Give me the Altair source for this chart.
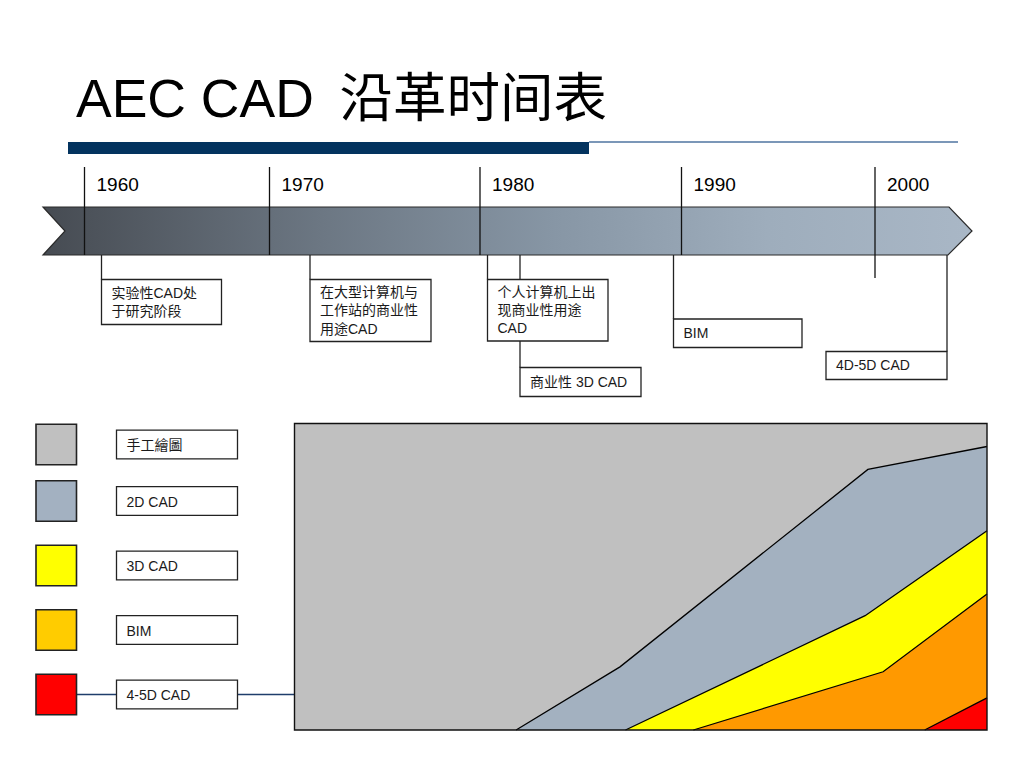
import altair as alt

# ------------------------------------------------------------------ data
TITLE = "AEC CAD \u2009沿革时间表"

DECADES = [1960, 1970, 1980, 1990, 2000]
DECADE_LABELS = ["1960", "1970", "1980", "1990", "2000"]

EVENT_TEXT = [
    ["实验性CAD处", "于研究阶段"],
    ["在大型计算机与", "工作站的商业性", "用途CAD"],
    ["个人计算机上出", "现商业性用途", "CAD"],
    ["商业性 3D CAD"],
    ["BIM"],
    ["4D-5D CAD"],
]

SERIES = ["手工繪圖", "2D CAD", "3D CAD", "BIM", "4-5D CAD"]
LEGEND_COLORS = ["#c0c0c0", "#a3b1c1", "#ffff00", "#ffcc00", "#ff0000"]
AREA_COLORS = ["#c0c0c0", "#a3b1c0", "#ffff00", "#ff9900", "#ff0000"]

# cumulative share (%, counted from the bottom of the stack) by year
MANUAL_YEARS = [1960, 2010]
MANUAL_TOP = [100, 100]
CAD2D_YEARS = [1976.0, 1983.5, 2001.4, 2010]
CAD2D_TOP = [0, 20.6, 85.0, 92.5]
CAD3D_YEARS = [1983.9, 2001.2, 2010]
CAD3D_TOP = [0, 37.3, 65.0]
BIM_YEARS = [1988.8, 2002.5, 2010]
BIM_TOP = [0, 19.0, 44.4]
CAD45_YEARS = [2005.5, 2010]
CAD45_TOP = [0, 10.5]

# ------------------------------------------------------------------ layout (page pixels)
W, H = 1008, 752
M = 8
FONT = "Liberation Sans, Arial, Noto Sans CJK SC"
TITLE_FONT = "Liberation Sans, Arial, Noto Sans CJK SC"

DECADE_PX = [84.5, 269.5, 480, 681.5, 875]          # where the decades sit on the arrow
TICK_TOP = 167
ARROW_TOP, ARROW_MID, ARROW_BOT = 207, 231, 255
TICK_BOTTOM = [255, 255, 255, 255, 278]

# callout boxes: (x1, x2, y1, y2) and leader x
BOXES = [
    (101.5, 221.5, 279.5, 324.5),
    (310, 431, 279.5, 341.5),
    (487.5, 608, 279.5, 341),
    (520, 641, 367.5, 396.5),
    (673.5, 802, 319, 347.5),
    (826, 947, 351.5, 379.5),
]
LEADERS = [
    (101.5, ARROW_BOT, 279.5),
    (310, ARROW_BOT, 279.5),
    (487.5, ARROW_BOT, 279.5),
    (520, ARROW_BOT, 279.5),
    (520, 341, 367.5),
    (673.5, ARROW_BOT, 319),
    (947, ARROW_BOT, 351.5),
]

LEGEND_CY = [444.5, 501, 565.5, 630, 694.5]
SQ_X1, SQ_X2, SQ_HALF = 36, 76.5, 20.3
LB_X1, LB_X2, LB_HALF = 116.5, 237.5, 14.3

PLOT_X1, PLOT_X2, PLOT_Y1, PLOT_Y2 = 294.5, 987, 423.5, 730


def sx(field, **kw):
    return alt.X(field, type="quantitative", axis=None,
                 scale=alt.Scale(domain=[M, M + W], range=[0, W], nice=False, zero=False), **kw)


def sy(field, **kw):
    return alt.Y(field, type="quantitative", axis=None,
                 scale=alt.Scale(domain=[M, M + H], range=[0, H], nice=False, zero=False), **kw)


YEAR_SCALE = alt.Scale(domain=DECADES, range=[p - M for p in DECADE_PX], nice=False, zero=False)
AREA_X = alt.Scale(domain=[1960, 2010], range=[PLOT_X1 - M, PLOT_X2 - M], nice=False, zero=False)
AREA_Y = alt.Scale(domain=[0, 100], range=[PLOT_Y2 - M, PLOT_Y1 - M], nice=False, zero=False)

layers = []

# title
layers.append(
    alt.Chart(alt.Data(values=[{"t": TITLE, "x": 76, "y": 117}]))
    .mark_text(align="left", baseline="alphabetic", fontSize=53.5, font=TITLE_FONT, color="#000000")
    .encode(x=sx("x"), y=sy("y"), text=alt.Text("t:N"))
)
# underline bar + thin rule
layers.append(
    alt.Chart(alt.Data(values=[{"x": 68, "x2": 589, "y": 142, "y2": 154}]))
    .mark_rect(color="#03335f")
    .encode(x=sx("x"), x2="x2:Q", y=sy("y"), y2="y2:Q")
)
layers.append(
    alt.Chart(alt.Data(values=[{"x": 589, "x2": 958, "y": 142}]))
    .mark_rule(color="#4f74a0", strokeWidth=1.6)
    .encode(x=sx("x"), x2="x2:Q", y=sy("y"))
)

# arrow band with gradient
grad = alt.Gradient(
    gradient="linear",
    stops=[
        alt.GradientStop(color="#464b52", offset=0),
        alt.GradientStop(color="#6c7783", offset=0.3),
        alt.GradientStop(color="#8796a5", offset=0.55),
        alt.GradientStop(color="#9eadbc", offset=0.78),
        alt.GradientStop(color="#a9b7c6", offset=1),
    ],
    x1=0, x2=1, y1=0, y2=0,
)
arrow_pts = [
    {"y": ARROW_TOP, "xl": 43, "xr": 949},
    {"y": ARROW_MID, "xl": 65, "xr": 972},
    {"y": ARROW_BOT, "xl": 43, "xr": 948},
]
layers.append(
    alt.Chart(alt.Data(values=arrow_pts))
    .mark_area(orient="horizontal", color=grad, stroke="#2a2a2a", strokeWidth=1.2, opacity=1)
    .encode(y=sy("y"), x=sx("xl"), x2="xr:Q")
)

# decade ticks and labels (through the year scale)
tick_rows = [{"year": yv, "lab": lb, "top": TICK_TOP, "bot": b}
             for yv, lb, b in zip(DECADES, DECADE_LABELS, TICK_BOTTOM)]
layers.append(
    alt.Chart(alt.Data(values=tick_rows))
    .mark_rule(color="#111111", strokeWidth=1.3)
    .encode(x=alt.X("year:Q", scale=YEAR_SCALE, axis=None), y=sy("top"), y2="bot:Q")
)
layers.append(
    alt.Chart(alt.Data(values=[dict(r, ly=191) for r in tick_rows]))
    .mark_text(align="left", baseline="alphabetic", dx=12, fontSize=19, font=FONT, color="#000000")
    .encode(x=alt.X("year:Q", scale=YEAR_SCALE, axis=None), y=sy("ly"), text=alt.Text("lab:N"))
)

# callout leaders
layers.append(
    alt.Chart(alt.Data(values=[{"x": a, "y": b, "y2": c} for a, b, c in LEADERS]))
    .mark_rule(color="#222222", strokeWidth=1.3)
    .encode(x=sx("x"), y=sy("y"), y2="y2:Q")
)
# callout boxes
layers.append(
    alt.Chart(alt.Data(values=[{"x": a, "x2": b, "y": c, "y2": d} for a, b, c, d in BOXES]))
    .mark_rect(fill="#ffffff", stroke="#222222", strokeWidth=1.3)
    .encode(x=sx("x"), x2="x2:Q", y=sy("y"), y2="y2:Q")
)
callout_rows = []
for (a, b, c, d), txt in zip(BOXES, EVENT_TEXT):
    n = len(txt)
    ytop = (c + d) / 2 - n * 18.2 / 2
    callout_rows.append({"x": a + 10, "y": ytop, "t": txt})
layers.append(
    alt.Chart(alt.Data(values=callout_rows))
    .mark_text(align="left", baseline="top", fontSize=14, lineHeight=18.2, font=FONT, color="#1a1a1a", dy=3)
    .encode(x=sx("x"), y=sy("y"), text=alt.Text("t:N"))
)

# legend connector line
layers.append(
    alt.Chart(alt.Data(values=[{"x": SQ_X2, "x2": LB_X1, "y": LEGEND_CY[4]},
                               {"x": LB_X2, "x2": PLOT_X1, "y": LEGEND_CY[4]}]))
    .mark_rule(color="#1f3d6b", strokeWidth=1.4)
    .encode(x=sx("x"), x2="x2:Q", y=sy("y"))
)
# legend squares and labels
leg_rows = [{"name": s, "col": c, "cy": cy,
             "sx1": SQ_X1, "sx2": SQ_X2, "sy1": cy - SQ_HALF, "sy2": cy + SQ_HALF,
             "lx1": LB_X1, "lx2": LB_X2, "ly1": cy - LB_HALF, "ly2": cy + LB_HALF, "tx": LB_X1 + 10}
            for s, c, cy in zip(SERIES, LEGEND_COLORS, LEGEND_CY)]
layers.append(
    alt.Chart(alt.Data(values=leg_rows))
    .mark_rect(stroke="#222222", strokeWidth=1.6)
    .encode(x=sx("sx1"), x2="sx2:Q", y=sy("sy1"), y2="sy2:Q",
            color=alt.Color("col:N", scale=None))
)
layers.append(
    alt.Chart(alt.Data(values=leg_rows))
    .mark_rect(fill="#ffffff", stroke="#222222", strokeWidth=1.3)
    .encode(x=sx("lx1"), x2="lx2:Q", y=sy("ly1"), y2="ly2:Q")
)
layers.append(
    alt.Chart(alt.Data(values=leg_rows))
    .mark_text(align="left", baseline="middle", fontSize=14, font=FONT, color="#1a1a1a", dy=1.5)
    .encode(x=sx("tx"), y=sy("cy"), text=alt.Text("name:N"))
)


# stacked shares (drawn back to front as cumulative tops)
def area_layer(years, tops, color, outline):
    vals = [{"year": yv, "top": t} for yv, t in zip(years, tops)]
    kw = {"line": {"color": "#000000", "strokeWidth": 1.3}} if outline else {}
    return (
        alt.Chart(alt.Data(values=vals))
        .mark_area(color=color, opacity=1, interpolate="linear", **kw)
        .encode(x=alt.X("year:Q", scale=AREA_X, axis=None),
                y=alt.Y("top:Q", scale=AREA_Y, axis=None, stack=None))
    )


layers.append(area_layer(MANUAL_YEARS, MANUAL_TOP, AREA_COLORS[0], False))
layers.append(area_layer(CAD2D_YEARS, CAD2D_TOP, AREA_COLORS[1], True))
layers.append(area_layer(CAD3D_YEARS, CAD3D_TOP, AREA_COLORS[2], True))
layers.append(area_layer(BIM_YEARS, BIM_TOP, AREA_COLORS[3], True))
layers.append(area_layer(CAD45_YEARS, CAD45_TOP, AREA_COLORS[4], True))

# plot frame
layers.append(
    alt.Chart(alt.Data(values=[{"x": 1960, "x2": 2010, "y": 0, "y2": 100}]))
    .mark_rect(fill=None, stroke="#111111", strokeWidth=1.4)
    .encode(x=alt.X("x:Q", scale=AREA_X, axis=None), x2="x2:Q",
            y=alt.Y("y:Q", scale=AREA_Y, axis=None), y2="y2:Q")
)

chart = (
    alt.layer(*layers)
    .resolve_scale(x="independent", y="independent", color="independent")
    .properties(width=W, height=H, padding=0, autosize=alt.AutoSizeParams(type="none"),
                background="#ffffff")
    .configure_view(stroke=None)
)

chart.save("out.html", embed_options={"renderer": "svg", "actions": False})
